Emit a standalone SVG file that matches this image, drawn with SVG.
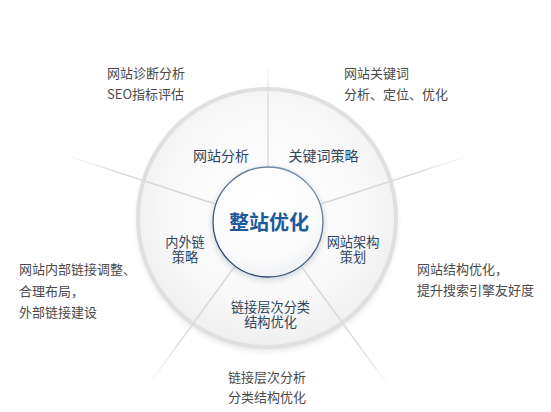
<svg xmlns="http://www.w3.org/2000/svg" width="551" height="412" viewBox="0 0 551 412">
<style>
.out{font-family:"Noto Sans CJK SC","Liberation Sans",sans-serif;font-size:13px;fill:#4a4a4a}
.lbl{font-family:"Noto Sans CJK SC","Liberation Sans",sans-serif;font-size:14px;fill:#2e4560;text-anchor:middle}
.lb2{font-family:"Liberation Sans","Noto Sans CJK SC",sans-serif;font-size:13.2px;fill:#2e4560;text-anchor:middle}
.ctr{font-family:"Noto Sans CJK SC","Liberation Sans",sans-serif;font-size:20px;font-weight:bold;fill:#1d5b9b;text-anchor:middle}
.spoke{stroke-width:1.4;fill:none}
</style>
<defs>
<radialGradient id="bigFill" cx="0.5" cy="0.45" r="0.55">
<stop offset="0" stop-color="#ffffff"/>
<stop offset="0.7" stop-color="#f8f8f8"/>
<stop offset="1" stop-color="#efefef"/>
</radialGradient>
<radialGradient id="innerFill" cx="0.45" cy="0.35" r="0.7">
<stop offset="0" stop-color="#ffffff"/>
<stop offset="0.7" stop-color="#fbfbfc"/>
<stop offset="1" stop-color="#eceef1"/>
</radialGradient>
<linearGradient id="innerStroke" x1="0.8" y1="0" x2="0.2" y2="1">
<stop offset="0" stop-color="#7d93ad"/>
<stop offset="1" stop-color="#1f3e66"/>
</linearGradient>
<filter id="shadow" x="-20%" y="-20%" width="140%" height="140%">
<feGaussianBlur stdDeviation="3"/>
</filter>
<linearGradient id="gTop" gradientUnits="userSpaceOnUse" x1="268" y1="166" x2="268" y2="68">
<stop offset="0" stop-color="#d6d6d6"/><stop offset="0.7" stop-color="#dcdcdc"/><stop offset="1" stop-color="#dcdcdc" stop-opacity="0.2"/>
</linearGradient>
<linearGradient id="gUR" gradientUnits="userSpaceOnUse" x1="321" y1="204" x2="471" y2="155">
<stop offset="0" stop-color="#d6d6d6"/><stop offset="0.6" stop-color="#dcdcdc"/><stop offset="1" stop-color="#dcdcdc" stop-opacity="0"/>
</linearGradient>
<linearGradient id="gLR" gradientUnits="userSpaceOnUse" x1="301" y1="266" x2="392" y2="391">
<stop offset="0" stop-color="#d6d6d6"/><stop offset="0.6" stop-color="#dcdcdc"/><stop offset="1" stop-color="#dcdcdc" stop-opacity="0"/>
</linearGradient>
<linearGradient id="gLL" gradientUnits="userSpaceOnUse" x1="235" y1="266" x2="147" y2="387">
<stop offset="0" stop-color="#d6d6d6"/><stop offset="0.6" stop-color="#dcdcdc"/><stop offset="1" stop-color="#dcdcdc" stop-opacity="0"/>
</linearGradient>
<linearGradient id="gUL" gradientUnits="userSpaceOnUse" x1="215" y1="204" x2="65" y2="155">
<stop offset="0" stop-color="#d6d6d6"/><stop offset="0.6" stop-color="#dcdcdc"/><stop offset="1" stop-color="#dcdcdc" stop-opacity="0"/>
</linearGradient>
</defs>
<rect width="551" height="412" fill="#ffffff"/>

<g id="wheel">
<circle cx="267" cy="221" r="129" fill="#dcdcdc" filter="url(#shadow)"/>
<circle cx="267" cy="218" r="129" fill="url(#bigFill)" stroke="#e0e0e0" stroke-width="4"/>
</g>

<g id="connectors">
<line class="spoke" x1="268" y1="166" x2="268" y2="68" stroke="url(#gTop)"/>
<line class="spoke" x1="321" y1="204" x2="471" y2="155" stroke="url(#gUR)"/>
<line class="spoke" x1="301" y1="266" x2="392" y2="391" stroke="url(#gLR)"/>
<line class="spoke" x1="235" y1="266" x2="147" y2="387" stroke="url(#gLL)"/>
<line class="spoke" x1="215" y1="204" x2="65" y2="155" stroke="url(#gUL)"/>
</g>

<g id="center">
<circle cx="268" cy="224" r="56" fill="#cfd3d8" filter="url(#shadow)"/>
<circle cx="268" cy="222" r="55" fill="url(#innerFill)" stroke="url(#innerStroke)" stroke-width="1.3"/>
<text class="ctr" x="269" y="229.5">整站优化</text>
</g>

<g id="seg-analysis"><text class="lbl" x="221" y="160.5">网站分析</text></g>
<g id="seg-keywords"><text class="lbl" x="323.5" y="160.5">关键词策略</text></g>
<g id="seg-links"><text class="lb2" x="185" y="246.5">内外链</text><text class="lb2" x="185" y="261.8">策略</text></g>
<g id="seg-structure"><text class="lb2" x="353" y="246.5">网站架构</text><text class="lb2" x="353" y="261.8">策划</text></g>
<g id="seg-hierarchy"><text class="lb2" x="270.5" y="311.5">链接层次分类</text><text class="lb2" x="270.5" y="326.8">结构优化</text></g>

<g id="note-analysis"><text class="out" x="107" y="78">网站诊断分析</text><text class="out" x="107" y="99">SEO指标评估</text></g>
<g id="note-keywords"><text class="out" x="344" y="78">网站关键词</text><text class="out" x="344" y="99">分析、定位、优化</text></g>
<g id="note-links"><text class="out" x="19" y="274">网站内部链接调整、</text><text class="out" x="19" y="296">合理布局，</text><text class="out" x="19" y="316.5">外部链接建设</text></g>
<g id="note-structure"><text class="out" x="417" y="274">网站结构优化，</text><text class="out" x="417" y="295">提升搜索引擎友好度</text></g>
<g id="note-hierarchy"><text class="out" x="228" y="382">链接层次分析</text><text class="out" x="228" y="402">分类结构优化</text></g>
</svg>
